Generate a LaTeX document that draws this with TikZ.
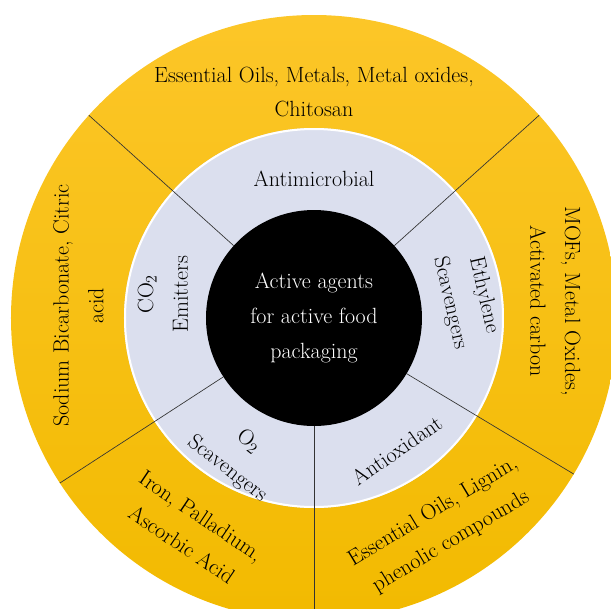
\documentclass[tikz,border=0pt]{standalone}
\usepackage{tikz}
\definecolor{goldtop}{RGB}{252,198,40}
\definecolor{goldbottom}{RGB}{242,186,0}
\definecolor{ringgrey}{RGB}{219,223,238}
\tikzset{ringtext/.style = {align = center, font = \fontsize{16.5}{26}\selectfont}}
\tikzset{hubtext/.style = {ringtext, white}}
\tikzset{divider/.style = {line width = 0.5pt, black!80}}

\begin{document}
\begin{tikzpicture}[x = 0.75pt, y = 0.75pt]
      \useasboundingbox (-314, -290) rectangle (297, 318);
      \clip (-314, -290) rectangle (297, 318);

      % rings
      \path [top color = goldtop, bottom color = goldbottom] (0, 0) circle [radius = 303];
      \fill [ringgrey] (0, 0) circle [radius = 190];
      \draw [white, line width = 1.5pt] (0, 0) circle [radius = 189];
      \fill [black] (0, 0) circle [radius = 108];

      \foreach \ang in {42, 138, 213, 270, 329}
        \draw [divider] (\ang:108) -- (\ang:303);

      % inner ring
      \node (antimicrobial) at (90:139) [ringtext] {Antimicrobial};
      \node (emitters) at (171:153) [ringtext, rotate = 90] {CO$_2$\\Emitters};
      \node (ethylene) at (7:154) [ringtext, rotate = -77] {Ethylene\\Scavengers};
      \node (oxygen) at (241:157) [ringtext, rotate = -38] {O$_2$\\Scavengers};
      \node (antioxidant) at (302:156) [ringtext, rotate = 35] {Antioxidant};

      % outer ring
      \node (antimicrobialagents) at (90:226) [ringtext] {Essential Oils, Metals, Metal oxides,\\Chitosan};
      \node (emitteragents) at (177:236) [ringtext, rotate = 90] {Sodium Bicarbonate, Citric\\acid};
      \node (ethyleneagents) at (4:242) [ringtext, rotate = -90] {MOFs, Metal Oxides,\\Activated carbon};
      \node (oxygenagents) at (240:245) [ringtext, rotate = -34] {Iron, Palladium,\\Ascorbic Acid};
      \node (antioxidantagents) at (301.5:245) [ringtext, rotate = 31] {Essential Oils, Lignin,\\phenolic compounds};

      \node (hub) at (0, 0) [hubtext] {Active agents\\for active food\\packaging};
    \end{tikzpicture}
\end{document}
